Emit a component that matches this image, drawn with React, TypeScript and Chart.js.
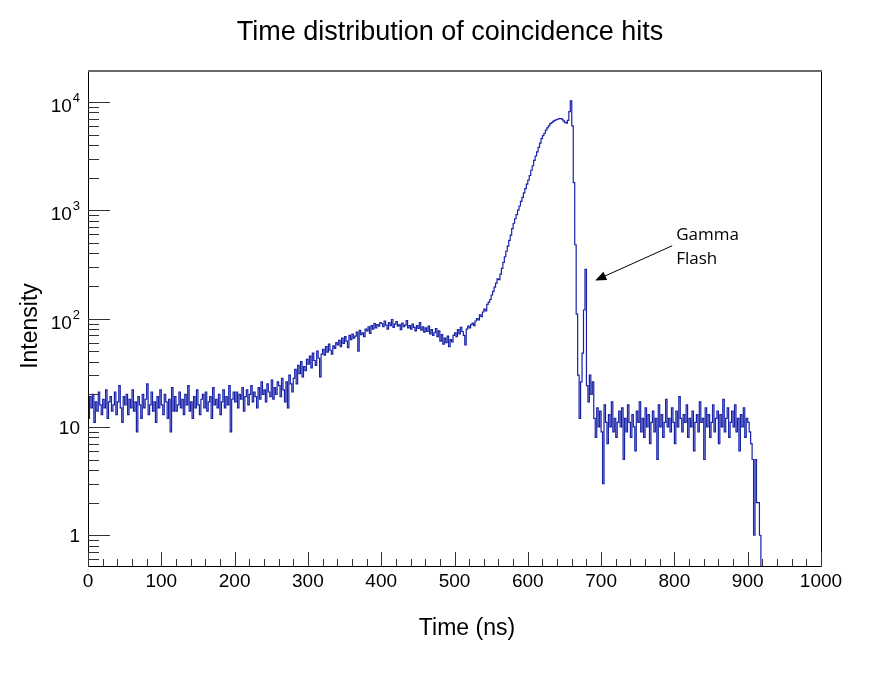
import React, { useEffect, useRef } from "react";
import { Chart, registerables } from "chart.js";

Chart.register(...registerables);

// ---------------- data (2 ns bins, low edges from 0 ns) ----------------
const BIN_WIDTH_NS = 2;

// 0 – 198 ns : flat background
const countsFlat = [
  12, 19, 15, 20, 11, 17, 14, 21, 16, 13,
  18, 15, 22, 12, 17, 19, 14, 16, 21, 13,
  17, 24, 15, 11, 19, 16, 20, 13, 18, 15,
  22, 14, 17, 9, 19, 16, 12, 20, 15, 18,
  25, 13, 16, 21, 14, 17, 11, 19, 15, 22,
  16, 13, 20, 17, 12, 18, 9, 23, 14, 19,
  14, 16, 21, 15, 18, 13, 20, 16, 24, 14,
  17, 12, 19, 15, 22, 16, 13, 18, 20, 15,
  21, 14, 17, 19, 12, 23, 16, 18, 15, 20,
  13, 17, 22, 15, 19, 16, 24, 9, 18, 21,
];

// 200 – 278 ns : slow rise
const countsSlowRise = [
  17, 21, 15, 20, 18, 23, 14, 19, 22, 16,
  20, 24, 17, 21, 19, 15, 23, 18, 26, 20,
  22, 17, 25, 21, 19, 27, 18, 23, 20, 26,
  24, 19, 28, 22, 17, 26, 15, 30, 25, 21,
];

// 280 – 398 ns : rise to the broad bump
const countsBumpRise = [
  28, 34, 25, 37, 31, 40, 29, 36, 33, 42,
  38, 45, 35, 48, 41, 37, 50, 43, 29, 47,
  52, 46, 55, 49, 58, 51, 47, 56, 53, 60,
  57, 63, 55, 66, 59, 68, 62, 54, 70, 64,
  72, 66, 69, 75, 50, 78, 71, 74, 68, 80,
  77, 84, 73, 86, 80, 90, 82, 88, 85, 92,
];

// 400 – 498 ns : bump top and dip
const countsBumpTop = [
  90, 84, 95, 87, 80, 92, 86, 98, 83, 89,
  94, 85, 88, 79, 91, 84, 87, 96, 82, 86,
  80, 89, 83, 77, 86, 81, 92, 78, 84, 75,
  82, 76, 85, 72, 79, 70, 74, 81, 68, 77,
  62, 71, 58, 66, 60, 69, 55, 64, 61, 70,
];

// 500 – 558 ns : start of the main rise
const countsMainStart = [
  74, 68, 79, 72, 83, 76, 70, 57, 80, 85,
  82, 88, 91, 86, 95, 100, 97, 108, 104, 115,
  122, 118, 135, 142, 150, 165, 178, 195, 212, 232,
];

// 560 – 658 ns : main peak
const countsMainPeak = [
  229, 257, 290, 330, 372, 418, 466, 527, 588, 676,
  758, 834, 910, 1003, 1094, 1205, 1316, 1448, 1583, 1741,
  1902, 2092, 2340, 2575, 2880, 3166, 3460, 3810, 4165, 4575,
  4890, 5135, 5490, 5760, 6020, 6315, 6450, 6610, 6755, 6845,
  6915, 7005, 6995, 6920, 6680, 6460, 6380, 6760, 8130, 10230,
];

// 660 – 688 ns : fall-off and gamma flash
const countsGammaFlash = [
  6000, 1800, 480, 110, 30, 12, 26, 48, 120, 285,
  24, 17, 30, 20, 26,
];

// 690 – 904 ns : flat tail
const countsTail = [
  12, 8, 15, 10, 14, 9, 3, 16, 11, 7,
  13, 10, 17, 9, 12, 8, 11, 14, 10, 15,
  5, 12, 9, 16, 11, 8, 13, 10, 6, 14,
  11, 17, 9, 12, 8, 15, 10, 13, 7, 11,
  14, 9, 12, 5, 16, 10, 13, 8, 11, 18,
  10, 12, 9, 15, 11, 7, 14, 10, 19, 12,
  9, 13, 11, 16, 8, 12, 10, 14, 6, 11,
  13, 9, 17, 11, 12, 5, 15, 10, 13, 8,
  11, 16, 9, 12, 14, 7, 13, 10, 18, 9,
  12, 15, 8, 11, 14, 10, 16, 9, 12, 6,
  13, 10, 15, 8, 12, 11, 9, 7,
];

// 906 – 918 ns : cut-off
const countsCutoff = [5, 1, 5, 2, 2, 1, 0];

const counts = [
  ...countsFlat,
  ...countsSlowRise,
  ...countsBumpRise,
  ...countsBumpTop,
  ...countsMainStart,
  ...countsMainPeak,
  ...countsGammaFlash,
  ...countsTail,
  ...countsCutoff,
];

// ---------------- axes ----------------
const X_MIN = 0;
const X_MAX = 1000;
const Y_MIN = 0.52;
const Y_MAX = 19700;
const X_MAJOR_TICKS = [0, 100, 200, 300, 400, 500, 600, 700, 800, 900, 1000];
const X_TICK_LABELS = ["0", "100", "200", "300", "400", "500", "600", "700", "800", "900", "1000"];
const X_MINOR_STEP = 20;
const Y_MAJOR_TICKS = [1, 10, 100, 1000, 10000];
const Y_TICK_BASES = ["1", "10", "10", "10", "10"];
const Y_TICK_EXPONENTS = ["", "", "2", "3", "4"];
const Y_MINOR_DECADES = [0.1, 1, 10, 100, 1000, 10000];

const TITLE = "Time distribution of coincidence hits";
const X_TITLE = "Time (ns)";
const Y_TITLE = "Intensity";
const ANNOTATION_LINES = ["Gamma", "Flash"];
// arrow in data coordinates (ns, counts)
const ARROW_TIP = { x: 692, y: 225 };
const ARROW_TAIL = { x: 797, y: 470 };

const EMPTY_BIN_Y = 0.1; // drawn below the axis minimum (empty bins)
const LINE_COLOR = "rgb(24, 34, 168)";
const FONT = "'Liberation Sans', Arial, Helvetica, sans-serif";

const rootStylePlugin = {
  id: "rootStyle",
  afterDatasetsDraw(chart: any) {
    const { ctx, chartArea: a } = chart;
    const xs = chart.scales.x;
    const ys = chart.scales.y;
    ctx.save();

    // frame
    ctx.lineWidth = 1;
    ctx.strokeStyle = "#000";
    ctx.beginPath();
    ctx.moveTo(a.left + 0.5, a.top);
    ctx.lineTo(a.left + 0.5, a.bottom + 0.5);
    ctx.lineTo(a.right + 0.5, a.bottom + 0.5);
    ctx.lineTo(a.right + 0.5, a.top + 0.5);
    ctx.stroke();
    ctx.strokeStyle = "#6a6a6a";
    ctx.lineWidth = 2;
    ctx.beginPath();
    ctx.moveTo(a.left, a.top + 1);
    ctx.lineTo(a.right + 1, a.top + 1);
    ctx.stroke();

    // x ticks (inside)
    ctx.lineWidth = 1;
    ctx.strokeStyle = "#333";
    ctx.beginPath();
    for (let v = X_MIN; v <= X_MAX + 1e-9; v += X_MINOR_STEP) {
      const px = Math.round(xs.getPixelForValue(v)) + 0.5;
      const major = X_MAJOR_TICKS.includes(v);
      ctx.moveTo(px, a.bottom);
      ctx.lineTo(px, a.bottom - (major ? 14 : 7));
    }
    // y ticks (inside)
    for (const d of Y_MINOR_DECADES) {
      for (let m = 1; m <= 9; m++) {
        const v = m * d;
        if (v < Y_MIN || v > Y_MAX) continue;
        const py = Math.round(ys.getPixelForValue(v)) + 0.5;
        const major = m === 1;
        ctx.moveTo(a.left, py);
        ctx.lineTo(a.left + (major ? 22 : 11), py);
      }
    }
    ctx.stroke();

    // x tick labels
    ctx.fillStyle = "#000";
    ctx.font = `19px ${FONT}`;
    ctx.textAlign = "center";
    ctx.textBaseline = "alphabetic";
    X_MAJOR_TICKS.forEach((v, i) => {
      ctx.fillText(X_TICK_LABELS[i], xs.getPixelForValue(v), a.bottom + 21);
    });

    // y tick labels
    const labelRight = a.left - 8;
    Y_MAJOR_TICKS.forEach((v, i) => {
      const py = ys.getPixelForValue(v);
      const base = Y_TICK_BASES[i];
      const exp = Y_TICK_EXPONENTS[i];
      ctx.textAlign = "right";
      if (!exp) {
        ctx.font = `19px ${FONT}`;
        ctx.textBaseline = "alphabetic";
        ctx.fillText(base, labelRight, py + 7);
      } else {
        ctx.font = `13px ${FONT}`;
        const ew = ctx.measureText(exp).width;
        ctx.textBaseline = "alphabetic";
        ctx.fillText(exp, labelRight, py - 0);
        ctx.font = `19px ${FONT}`;
        ctx.fillText(base, labelRight - ew - 1, py + 10);
      }
    });

    // title
    ctx.font = `27px ${FONT}`;
    ctx.textAlign = "center";
    ctx.textBaseline = "alphabetic";
    ctx.fillText(TITLE, 450, 40);

    // x title
    ctx.font = `23px ${FONT}`;
    ctx.fillText(X_TITLE, 467, 635);

    // y title
    ctx.save();
    ctx.translate(37, 326);
    ctx.rotate(-Math.PI / 2);
    ctx.textAlign = "center";
    ctx.fillText(Y_TITLE, 0, 0);
    ctx.restore();

    // annotation arrow
    const tx = xs.getPixelForValue(ARROW_TIP.x);
    const ty = ys.getPixelForValue(ARROW_TIP.y);
    const sx = xs.getPixelForValue(ARROW_TAIL.x);
    const sy = ys.getPixelForValue(ARROW_TAIL.y);
    const ang = Math.atan2(ty - sy, tx - sx);
    ctx.strokeStyle = "#000";
    ctx.fillStyle = "#000";
    ctx.lineWidth = 1;
    ctx.beginPath();
    ctx.moveTo(sx, sy);
    ctx.lineTo(tx - 8 * Math.cos(ang), ty - 8 * Math.sin(ang));
    ctx.stroke();
    const hl = 11;
    const hw = 4.5;
    ctx.beginPath();
    ctx.moveTo(tx, ty);
    ctx.lineTo(
      tx - hl * Math.cos(ang) + hw * Math.sin(ang),
      ty - hl * Math.sin(ang) - hw * Math.cos(ang)
    );
    ctx.lineTo(
      tx - hl * Math.cos(ang) - hw * Math.sin(ang),
      ty - hl * Math.sin(ang) + hw * Math.cos(ang)
    );
    ctx.closePath();
    ctx.fill();

    ctx.font = `17px 'Open Sans', 'Noto Sans', sans-serif`;
    ctx.textAlign = "left";
    ctx.textBaseline = "alphabetic";
    ctx.fillText(ANNOTATION_LINES[0], sx + 4, sy - 6);
    ctx.fillText(ANNOTATION_LINES[1], sx + 4, sy + 18);

    ctx.restore();
  },
};

export default function App() {
  const canvasRef = useRef<HTMLCanvasElement | null>(null);

  useEffect(() => {
    document.body.style.margin = "0";
    const canvas = canvasRef.current;
    if (!canvas) return;

    const points = counts.map((c, i) => ({
      x: i * BIN_WIDTH_NS,
      y: c > 0 ? c : EMPTY_BIN_Y,
    }));
    const last = counts[counts.length - 1];
    points.push({ x: X_MAX, y: last > 0 ? last : EMPTY_BIN_Y });

    const chart = new Chart(canvas, {
      type: "line",
      data: {
        datasets: [
          {
            data: points,
            borderColor: LINE_COLOR,
            borderWidth: 1.2,
            pointRadius: 0,
            stepped: true,
            fill: false,
            tension: 0,
          },
        ],
      },
      options: {
        animation: false,
        responsive: false,
        events: [],
        layout: { padding: { left: 88, top: 70, right: 64, bottom: 118 } },
        plugins: {
          legend: { display: false },
          tooltip: { enabled: false },
          title: { display: false },
        },
        scales: {
          x: { type: "linear", min: X_MIN, max: X_MAX, display: false },
          y: { type: "logarithmic", min: Y_MIN, max: Y_MAX, display: false },
        },
      },
      plugins: [rootStylePlugin],
    });

    return () => chart.destroy();
  }, []);

  return (
    <div style={{ width: 885, height: 684, background: "#fff" }}>
      <canvas ref={canvasRef} width={885} height={684} style={{ display: "block" }} />
    </div>
  );
}
